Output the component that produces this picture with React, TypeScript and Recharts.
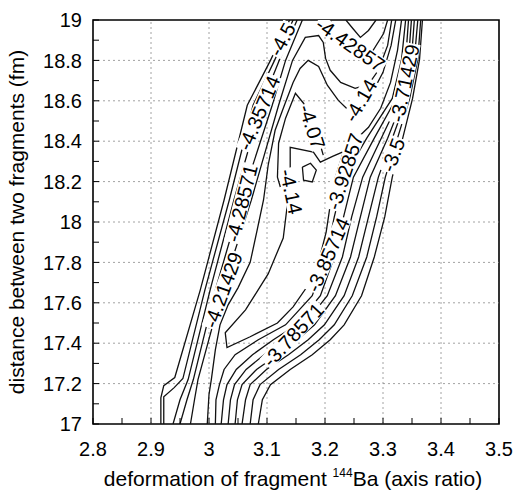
import React from 'react';
import { ComposedChart, Line, Scatter, XAxis, YAxis, ReferenceLine, ReferenceArea, Label } from 'recharts';

// axis ticks: minor marks every 0.05 / 0.1, labels only on the majors
const X_TICKS = [2.8, 2.85, 2.9, 2.95, 3, 3.05, 3.1, 3.15, 3.2, 3.25, 3.3, 3.35, 3.4, 3.45, 3.5];
const X_MAJOR = [2.8, 2.9, 3, 3.1, 3.2, 3.3, 3.4, 3.5];
const X_LABELS = ['2.8', '2.9', '3', '3.1', '3.2', '3.3', '3.4', '3.5'];
const Y_TICKS = [17, 17.1, 17.2, 17.3, 17.4, 17.5, 17.6, 17.7, 17.8, 17.9, 18, 18.1, 18.2, 18.3, 18.4, 18.5, 18.6, 18.7, 18.8, 18.9, 19];
const Y_MAJOR = [17, 17.2, 17.4, 17.6, 17.8, 18, 18.2, 18.4, 18.6, 18.8, 19];
const Y_LABELS = ['17', '17.2', '17.4', '17.6', '17.8', '18', '18.2', '18.4', '18.6', '18.8', '19'];

// contour lines, [deformation, distance] pairs
const LEFT_WALL_1 = [[2.917, 17.0], [2.917, 17.13], [2.922, 17.19], [2.941, 17.23], [2.985, 17.664], [3.026, 18.109], [3.066, 18.578], [3.106, 18.8], [3.139, 19.0]];
const LEFT_WALL_2 = [[2.922, 17.0], [2.922, 17.135], [2.94, 17.18], [2.955, 17.225], [2.993, 17.664], [3.035, 18.109], [3.076, 18.578], [3.113, 18.8], [3.145, 19.0]];
const LEFT_WALL_3 = [[2.938, 17.0], [2.95, 17.12], [2.964, 17.22], [3.002, 17.664], [3.043, 18.109], [3.09, 18.578], [3.121, 18.8], [3.152, 19.0]];
const LEFT_WALL_4 = [[2.95, 17.0], [2.962, 17.12], [2.973, 17.22], [3.011, 17.664], [3.056, 18.109], [3.109, 18.578], [3.132, 18.8], [3.161, 19.0]];
const LEFT_WALL_5 = [
  [2.968, 17.0], [2.975, 17.12], [2.981, 17.22], [3.023, 17.664], [3.073, 18.109], [3.12, 18.578], [3.144, 18.8],
  [3.166, 18.914], [3.189, 18.923], [3.197, 18.889], [3.201, 18.81], [3.209, 18.751], [3.227, 18.691], [3.252, 18.662],
  [3.275, 18.681], [3.292, 18.751], [3.308, 18.874], [3.315, 19.0],
];
const INNER_414 = [
  [2.997, 17.0], [3.0, 17.146], [3.004, 17.22], [3.011, 17.368], [3.019, 17.491], [3.033, 17.59], [3.05, 17.674],
  [3.071, 17.8], [3.083, 17.96], [3.094, 18.109], [3.102, 18.281], [3.114, 18.454], [3.13, 18.578], [3.145, 18.691],
  [3.157, 18.76], [3.171, 18.8], [3.189, 18.77], [3.204, 18.677], [3.223, 18.602], [3.244, 18.543], [3.261, 18.602],
  [3.282, 18.642], [3.3, 18.741], [3.314, 18.874], [3.322, 19.0],
];
const WEDGE_400 = [
  [3.23, 18.346], [3.214, 18.326], [3.192, 18.296], [3.18, 18.346], [3.14, 18.37], [3.14, 18.272], [3.138, 18.158],
  [3.135, 18.084], [3.128, 17.921], [3.102, 17.743], [3.063, 17.565], [3.028, 17.452], [3.031, 17.378], [3.071, 17.432],
  [3.118, 17.5], [3.145, 17.58], [3.175, 17.704], [3.192, 17.837], [3.202, 17.95], [3.209, 18.084], [3.218, 18.222],
  [3.23, 18.331], [3.252, 18.405], [3.275, 18.469], [3.296, 18.563], [3.313, 18.691], [3.325, 18.85], [3.332, 19.0],
];
const LOOP_407 = [[3.123, 18.173], [3.118, 18.222], [3.12, 18.39], [3.132, 18.514], [3.149, 18.637], [3.163, 18.588], [3.175, 18.519], [3.185, 18.464], [3.192, 18.38], [3.197, 18.331]];
const LOOP_SMALL = [[3.161, 18.272], [3.175, 18.291], [3.185, 18.257], [3.178, 18.198], [3.163, 18.207], [3.161, 18.272]];
const POCKET_1 = [[3.236, 19.0], [3.248, 18.958], [3.261, 18.914], [3.275, 18.948], [3.288, 19.0]];
const POCKET_2 = [[3.209, 19.0], [3.215, 18.963], [3.239, 18.899], [3.261, 18.815], [3.283, 18.85], [3.301, 18.933], [3.308, 19.0]];
const RIGHT_WALL_1 = [[3.011, 17.0], [3.012, 17.12], [3.018, 17.195], [3.026, 17.27], [3.045, 17.343], [3.085, 17.417], [3.132, 17.491], [3.178, 17.635], [3.202, 17.827], [3.216, 18.025], [3.233, 18.222], [3.272, 18.415], [3.316, 18.612], [3.332, 18.805], [3.339, 19.0]];
const RIGHT_WALL_2 = [[3.021, 17.0], [3.025, 17.12], [3.031, 17.195], [3.047, 17.27], [3.075, 17.343], [3.111, 17.417], [3.151, 17.491], [3.192, 17.635], [3.216, 17.827], [3.232, 18.025], [3.249, 18.222], [3.285, 18.415], [3.323, 18.612], [3.339, 18.805], [3.344, 19.0]];
const RIGHT_WALL_3 = [[3.033, 17.0], [3.037, 17.12], [3.044, 17.195], [3.064, 17.27], [3.095, 17.343], [3.132, 17.417], [3.164, 17.491], [3.204, 17.635], [3.23, 17.827], [3.246, 18.025], [3.265, 18.222], [3.297, 18.415], [3.33, 18.612], [3.344, 18.805], [3.349, 19.0]];
const RIGHT_WALL_4 = [[3.045, 17.0], [3.049, 17.12], [3.057, 17.195], [3.082, 17.27], [3.118, 17.343], [3.152, 17.417], [3.182, 17.491], [3.218, 17.635], [3.244, 17.827], [3.261, 18.025], [3.278, 18.222], [3.308, 18.415], [3.335, 18.612], [3.349, 18.805], [3.354, 19.0]];
const RIGHT_WALL_5 = [[3.057, 17.0], [3.063, 17.12], [3.071, 17.195], [3.099, 17.27], [3.137, 17.343], [3.171, 17.417], [3.199, 17.491], [3.233, 17.635], [3.258, 17.827], [3.275, 18.025], [3.292, 18.222], [3.316, 18.415], [3.341, 18.612], [3.354, 18.805], [3.36, 19.0]];
const RIGHT_WALL_6 = [[3.071, 17.0], [3.076, 17.12], [3.088, 17.195], [3.12, 17.27], [3.158, 17.343], [3.19, 17.417], [3.216, 17.491], [3.247, 17.635], [3.272, 17.827], [3.289, 18.025], [3.304, 18.222], [3.325, 18.415], [3.346, 18.612], [3.36, 18.805], [3.365, 19.0]];
const RIGHT_WALL_7 = [[3.085, 17.0], [3.092, 17.12], [3.106, 17.195], [3.14, 17.27], [3.178, 17.343], [3.209, 17.417], [3.233, 17.491], [3.263, 17.635], [3.285, 17.827], [3.303, 18.025], [3.316, 18.222], [3.334, 18.415], [3.351, 18.612], [3.363, 18.805], [3.368, 19.0]];

// contour level labels
const LABEL_TEXT = ['-4.5', '-4.35714', '-4.28571', '-4.21429', '-4.42857', '-4.14', '-4.07', '-4.14', '-3.92857', '-3.85714', '-3.78571', '-3.71429', '-3.5'];
const LABEL_X = [3.126, 3.086, 3.056, 3.024, 3.244, 3.261, 3.178, 3.142, 3.234, 3.205, 3.145, 3.337, 3.317];
const LABEL_Y = [18.904, 18.54, 18.093, 17.664, 18.879, 18.602, 18.472, 18.151, 18.25, 17.838, 17.442, 18.687, 18.332];
const LABEL_ANGLE = [-62, -67, -76, -70, 35, -60, 72, 78, -72, -66, -47, -78, -70];

const CONTOURS = [
  LEFT_WALL_1, LEFT_WALL_2, LEFT_WALL_3, LEFT_WALL_4, LEFT_WALL_5, INNER_414, WEDGE_400, LOOP_407, LOOP_SMALL,
  POCKET_1, POCKET_2, RIGHT_WALL_1, RIGHT_WALL_2, RIGHT_WALL_3, RIGHT_WALL_4, RIGHT_WALL_5, RIGHT_WALL_6, RIGHT_WALL_7,
].map((pts) => pts.map(([x, y]) => ({ x, y })));

const LABEL_POINTS = LABEL_TEXT.map((text, i) => ({ x: LABEL_X[i], y: LABEL_Y[i], text, angle: LABEL_ANGLE[i] }));

const FONT = '"Liberation Sans", Arial, Helvetica, sans-serif';
const X_TICK_MARGIN = 18;
const Y_TICK_MARGIN = 11;
const LABEL_FONT = 20;

function charWidth(c: string): number {
  if (c === '.') return 0.278;
  if (c === '-') return 0.333;
  return 0.556;
}

function XTick(props: any) {
  const { x, y, payload } = props;
  const i = X_MAJOR.findIndex((m) => Math.abs(m - payload.value) < 1e-6);
  const axisY = y - X_TICK_MARGIN;
  return (
    <g>
      <line x1={x} x2={x} y1={axisY} y2={axisY - 6} stroke="#000" strokeWidth={1} />
      {i >= 0 && (
        <text x={x} y={y} dy="0.71em" textAnchor="middle" fontSize={20} fontFamily={FONT} fill="#000">
          {X_LABELS[i]}
        </text>
      )}
    </g>
  );
}

function YTick(props: any) {
  const { x, y, payload } = props;
  const i = Y_MAJOR.findIndex((m) => Math.abs(m - payload.value) < 1e-6);
  const axisX = x + Y_TICK_MARGIN;
  return (
    <g>
      <line x1={axisX} x2={axisX + 6} y1={y} y2={y} stroke="#000" strokeWidth={1} />
      {i >= 0 && (
        <text x={x} y={y} dy="0.36em" textAnchor="end" fontSize={20} fontFamily={FONT} fill="#000">
          {Y_LABELS[i]}
        </text>
      )}
    </g>
  );
}

function XTitle(props: any) {
  const { viewBox } = props;
  return (
    <text x={viewBox.x + viewBox.width / 2 - 3} y={viewBox.y + 62} textAnchor="middle" fontSize={21} fontFamily={FONT} fill="#000">
      deformation of fragment{' '}
      <tspan fontSize={12} dy={-9}>144</tspan>
      <tspan dy={9}>Ba (axis ratio)</tspan>
    </text>
  );
}

function YTitle(props: any) {
  const { viewBox } = props;
  const x = viewBox.x + 24;
  const y = viewBox.y + viewBox.height / 2;
  return (
    <text x={x} y={y} transform={`rotate(-90, ${x}, ${y})`} textAnchor="middle" fontSize={21} fontFamily={FONT} fill="#000">
      distance between two fragments (fm)
    </text>
  );
}

function ContourLabel(props: any) {
  const { cx, cy, payload } = props;
  const w = payload.text.split('').reduce((s: number, c: string) => s + charWidth(c), 0) * LABEL_FONT;
  const h = LABEL_FONT * 0.8;
  return (
    <g transform={`rotate(${payload.angle}, ${cx}, ${cy})`}>
      <rect x={cx - w / 2 - 1} y={cy - h / 2} width={w + 2} height={h} fill="#fff" />
      <text x={cx} y={cy} dy="0.36em" textAnchor="middle" fontSize={LABEL_FONT} fontFamily={FONT} fill="#000">
        {payload.text}
      </text>
    </g>
  );
}

export default function App() {
  return (
    <div style={{ position: 'absolute', left: 0, top: 0, background: '#fff' }}>
      <ComposedChart width={514} height={491} margin={{ top: 20, right: 15, bottom: 0, left: 0 }}>
        <XAxis
          type="number"
          dataKey="x"
          domain={[2.8, 3.5]}
          ticks={X_TICKS}
          interval={0}
          allowDataOverflow
          axisLine={false}
          tickLine={false}
          tickSize={0}
          tickMargin={X_TICK_MARGIN}
          tick={<XTick />}
          height={67}
        >
          <Label content={<XTitle />} />
        </XAxis>
        <YAxis
          type="number"
          dataKey="y"
          domain={[17, 19]}
          ticks={Y_TICKS}
          interval={0}
          allowDataOverflow
          axisLine={false}
          tickLine={false}
          tickSize={0}
          tickMargin={Y_TICK_MARGIN}
          tick={<YTick />}
          width={93}
        >
          <Label content={<YTitle />} />
        </YAxis>
        {X_MAJOR.slice(1, -1).map((v) => (
          <ReferenceLine key={`gx${v}`} x={v} stroke="#8a8a8a" strokeWidth={0.8} strokeDasharray="2 3" />
        ))}
        {Y_MAJOR.slice(1, -1).map((v) => (
          <ReferenceLine key={`gy${v}`} y={v} stroke="#8a8a8a" strokeWidth={0.8} strokeDasharray="2 3" />
        ))}
        {CONTOURS.map((pts, i) => (
          <Line
            key={i}
            data={pts}
            dataKey="y"
            type="linear"
            stroke="#111"
            strokeWidth={1.3}
            dot={false}
            activeDot={false}
            isAnimationActive={false}
          />
        ))}
        <Scatter data={LABEL_POINTS} shape={<ContourLabel />} isAnimationActive={false} />
        <ReferenceArea x1={2.8} x2={3.5} y1={17} y2={19} fill="none" stroke="#000" strokeWidth={1.6} ifOverflow="visible" />
      </ComposedChart>
    </div>
  );
}
